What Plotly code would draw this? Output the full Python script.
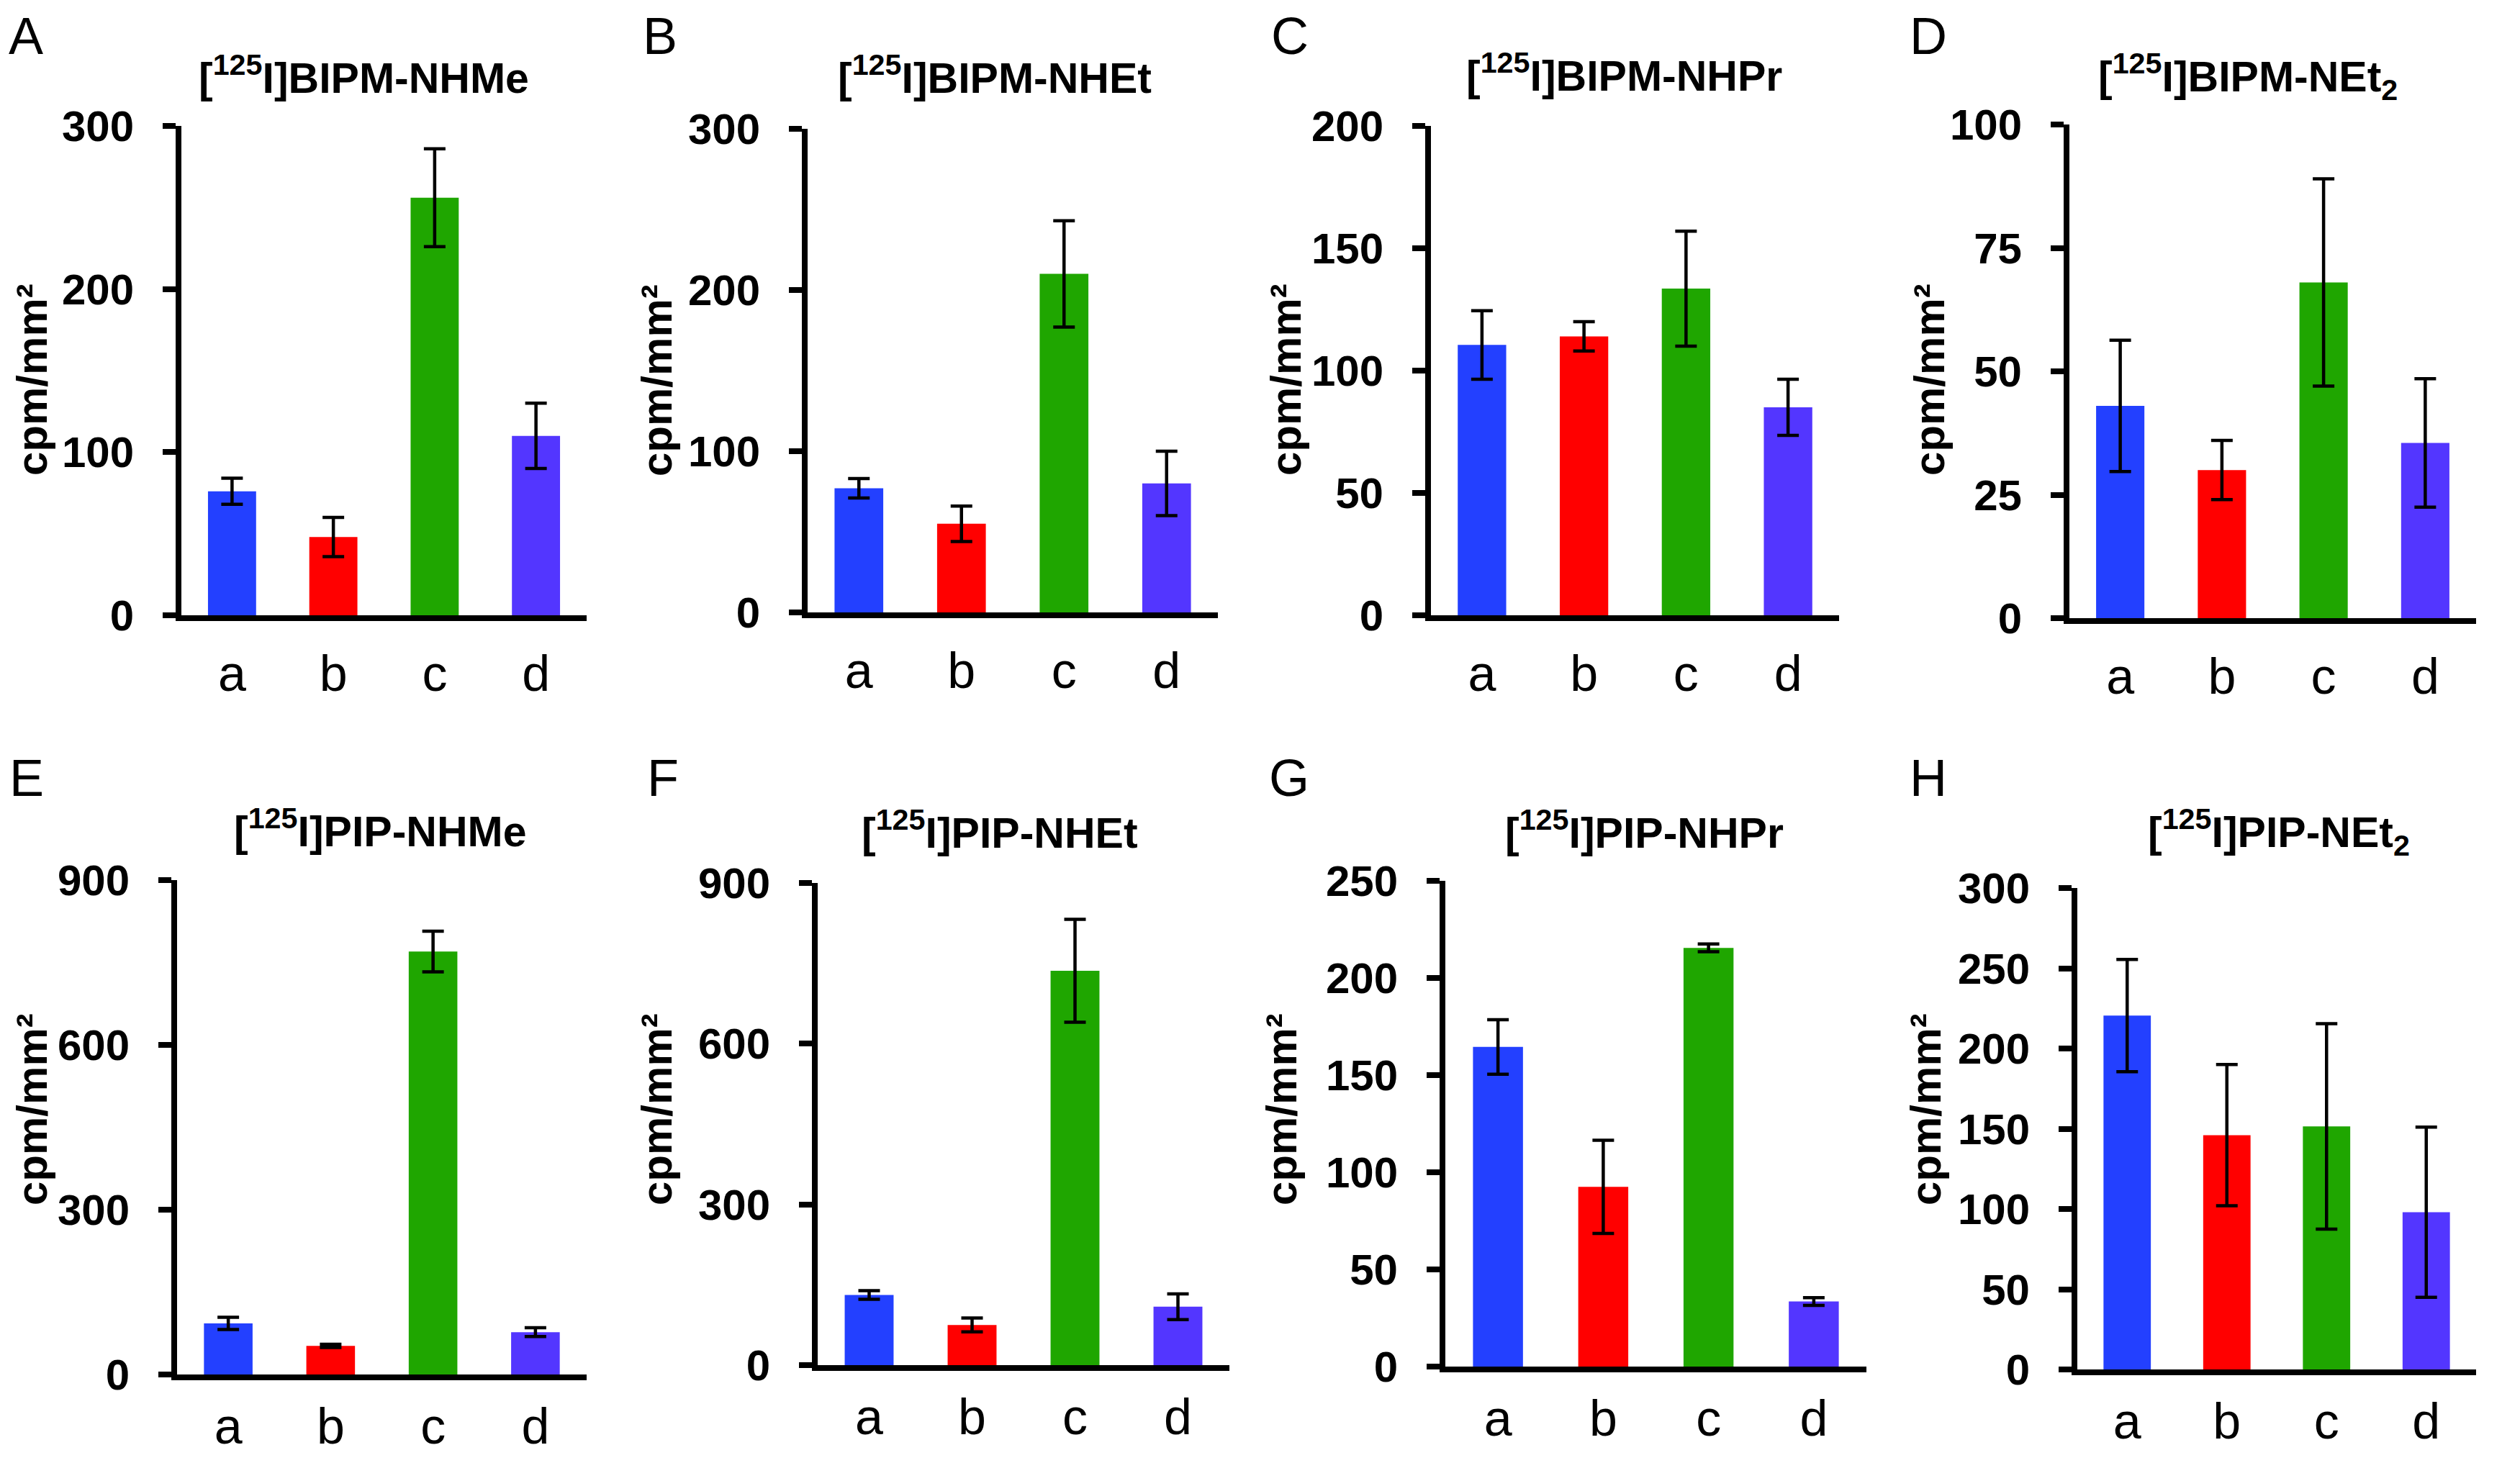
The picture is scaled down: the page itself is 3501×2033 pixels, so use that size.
import plotly.graph_objects as go

W, H = 3501, 2033

categories = ["a", "b", "c", "d"]
colors = ["#2340FF", "#FF0000", "#1FA600", "#5336FF"]

titles = [
    "[<sup>125</sup>I]BIPM-NHMe",
    "[<sup>125</sup>I]BIPM-NHEt",
    "[<sup>125</sup>I]BIPM-NHPr",
    "[<sup>125</sup>I]BIPM-NEt<sub>2</sub>",
    "[<sup>125</sup>I]PIP-NHMe",
    "[<sup>125</sup>I]PIP-NHEt",
    "[<sup>125</sup>I]PIP-NHPr",
    "[<sup>125</sup>I]PIP-NEt<sub>2</sub>",
]
panel_letters = ["A", "B", "C", "D", "E", "F", "G", "H"]

values_A = [76, 48, 256, 110]
errors_A = [8, 12, 30, 20]
values_B = [77, 55, 210, 80]
errors_B = [6, 11, 33, 20]
values_C = [110.5, 114, 133.5, 85]
errors_C = [14, 6, 23.5, 11.5]
values_D = [43, 30, 68, 35.5]
errors_D = [13.3, 6, 21, 13]
values_E = [93, 52, 770, 77]
errors_E = [11, 3, 37, 8]
values_F = [131, 75, 736, 109]
errors_F = [8, 13, 96, 24]
values_G = [164.5, 92.5, 215.5, 33.5]
errors_G = [14, 24, 2, 2]
values_H = [220.5, 146, 151.5, 98]
errors_H = [35, 44, 64, 53]

ticks_A = [0, 100, 200, 300]
ticks_B = [0, 100, 200, 300]
ticks_C = [0, 50, 100, 150, 200]
ticks_D = [0, 25, 50, 75, 100]
ticks_E = [0, 300, 600, 900]
ticks_F = [0, 300, 600, 900]
ticks_G = [0, 50, 100, 150, 200, 250]
ticks_H = [0, 50, 100, 150, 200, 250, 300]

y_title = "<b>cpm/mm²</b>"

all_values = [values_A, values_B, values_C, values_D, values_E, values_F, values_G, values_H]
all_errors = [errors_A, errors_B, errors_C, errors_D, errors_E, errors_F, errors_G, errors_H]
all_ticks = [ticks_A, ticks_B, ticks_C, ticks_D, ticks_E, ticks_F, ticks_G, ticks_H]

# layout geometry in pixels: (x0, x1, ytop, ybottom)
boxes = [
    (244, 807, 167, 847),
    (1114, 1684, 171, 843),
    (1980, 2547, 167, 847),
    (2867, 3432, 165, 851),
    (238, 807, 1215, 1902),
    (1128, 1700, 1219, 1889),
    (2000, 2585, 1216, 1891),
    (2878, 3432, 1226, 1895),
]
title_pos = [(497, 96), (1374, 96), (2248, 93), (3115, 98),
             (520, 1143), (1381, 1145), (2276, 1145), (3158, 1148)]
# top edge of panel letter boxes
letter_pos = [(2, 0), (883, 0), (1756, 0), (2643, 0),
              (3, 1031), (889, 1031), (1753, 1031), (2643, 1031)]
ytitle_pos = [(36, 520), (904, 521), (1778, 520), (2672, 520),
              (36, 1534), (904, 1534), (1772, 1534), (2667, 1534)]
label_standoff = [13, 13, 13, 13, 4, 4, 4, 4]

FONT = "Liberation Sans, Arial, Helvetica, sans-serif"

fig = go.Figure()
layout = dict(
    width=W, height=H,
    margin=dict(l=0, r=0, t=0, b=0, pad=0, autoexpand=False),
    paper_bgcolor="white", plot_bgcolor="white",
    showlegend=False,
    bargap=0.525,
    font=dict(family=FONT, color="black"),
)
annotations = []

def px_x(x):
    return x / W

def px_y(y):
    return 1 - y / H

for i in range(8):
    n = "" if i == 0 else str(i + 1)
    x0, x1, yt, yb = boxes[i]
    fig.add_trace(go.Bar(
        x=categories, y=all_values[i],
        marker=dict(color=colors, line=dict(width=0)),
        error_y=dict(type="data", array=all_errors[i], visible=True,
                     color="black", thickness=4.5, width=15),
        xaxis="x" + n, yaxis="y" + n,
    ))
    layout["xaxis" + n] = dict(
        domain=[px_x(x0), px_x(x1)], anchor="y" + n,
        range=[-0.5, 3.5], type="category", automargin=False,
        showline=True, linecolor="black", linewidth=8,
        showgrid=False, zeroline=False, ticks="",
        tickfont=dict(family=FONT, size=70, color="black"),
        ticklabelstandoff=label_standoff[i],
    )
    tv = all_ticks[i]
    layout["yaxis" + n] = dict(
        domain=[px_y(yb), px_y(yt)], anchor="x" + n,
        range=[0, tv[-1]], tickvals=tv, automargin=False,
        showline=True, linecolor="black", linewidth=8,
        showgrid=False, zeroline=False,
        ticks="outside", ticklen=18, tickwidth=8, tickcolor="black",
        tickfont=dict(family=FONT, size=60, color="black", weight="bold"),
        ticklabelstandoff=28,
    )
    tx, ty = title_pos[i]
    annotations.append(dict(
        text="<b>" + titles[i] + "</b>", xref="paper", yref="paper",
        x=px_x(tx), y=px_y(ty), xanchor="center", yanchor="middle",
        showarrow=False, font=dict(family=FONT, size=59, color="black"),
    ))
    lx, ly = letter_pos[i]
    annotations.append(dict(
        text=panel_letters[i], xref="paper", yref="paper",
        x=px_x(lx), y=px_y(ly), xanchor="left", yanchor="top",
        showarrow=False, font=dict(family=FONT, size=72, color="black"),
    ))
    ax, ay = ytitle_pos[i]
    annotations.append(dict(
        text=y_title, xref="paper", yref="paper",
        x=px_x(ax), y=px_y(ay), xanchor="center", yanchor="middle",
        textangle=-90, showarrow=False,
        font=dict(family=FONT, size=60, color="black"),
    ))

layout["annotations"] = annotations
fig.update_layout(**layout)
fig.write_html("out.html")
